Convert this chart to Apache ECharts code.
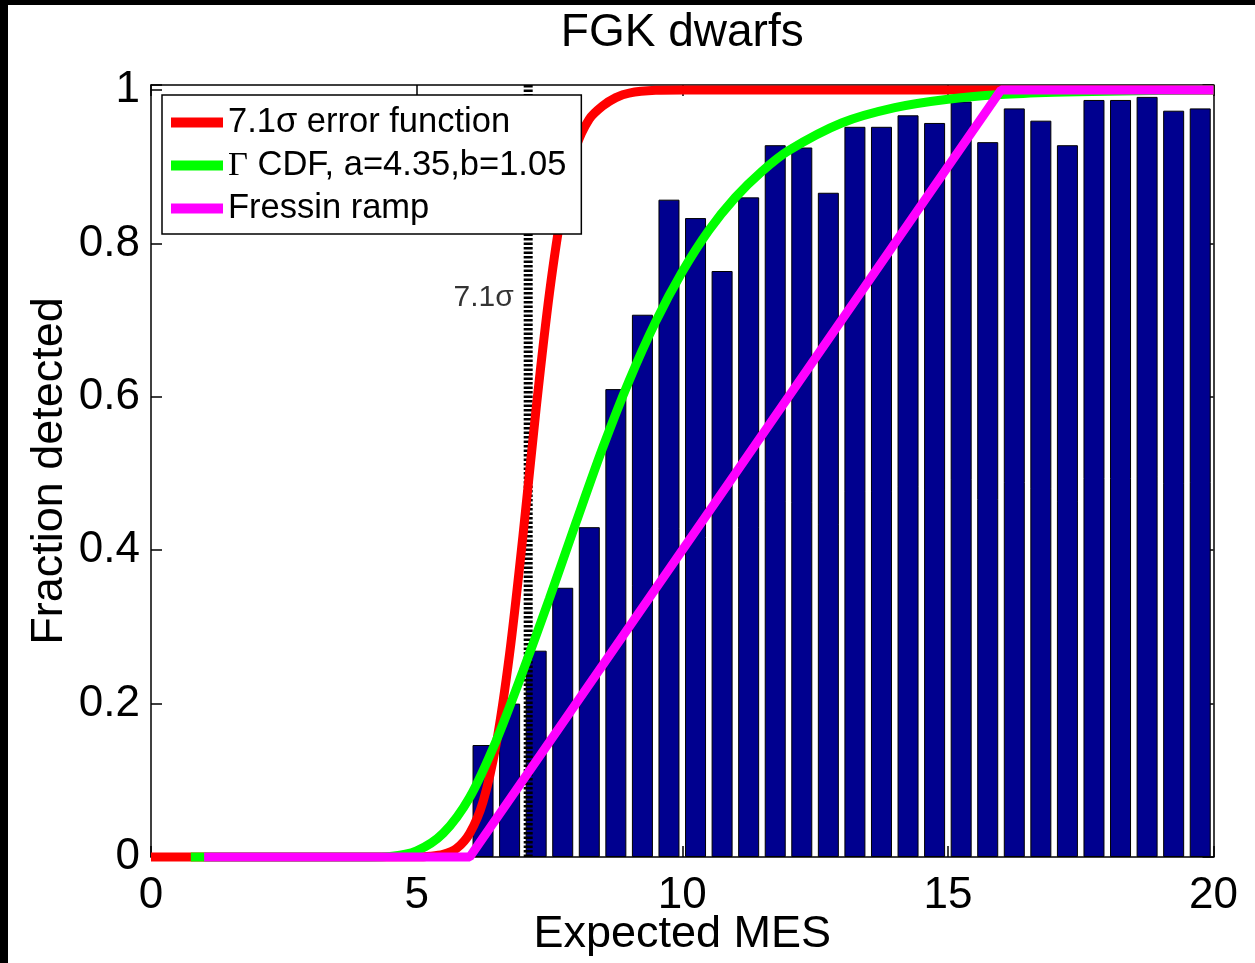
<!DOCTYPE html>
<html>
<head>
<meta charset="utf-8">
<title>FGK dwarfs</title>
<script src="https://cdn.jsdelivr.net/npm/echarts@6/dist/echarts.min.js"></script>
<style>
  html, body { margin: 0; padding: 0; background: #000; width: 1255px; height: 963px; overflow: hidden; }
  #chart { position: absolute; left: 8px; top: 5px; width: 1247px; height: 958px; background: #fff; }
</style>
</head>
<body>
<div id="chart"></div>
<script>
// Histogram bins of expected MES (bin width 0.5) and the fraction detected in each
const binCenters = [6.25, 6.75, 7.25, 7.75, 8.25, 8.75, 9.25, 9.75, 10.25, 10.75,
                    11.25, 11.75, 12.25, 12.75, 13.25, 13.75, 14.25, 14.75, 15.25, 15.75,
                    16.25, 16.75, 17.25, 17.75, 18.25, 18.75, 19.25, 19.75];
const detectedFraction = [0.146, 0.200, 0.269, 0.351, 0.430, 0.610, 0.707, 0.857, 0.833, 0.764,
                          0.860, 0.928, 0.925, 0.866, 0.952, 0.952, 0.967, 0.957, 0.985, 0.932,
                          0.976, 0.960, 0.928, 0.987, 0.987, 0.991, 0.973, 0.976];

// 7.1 sigma error function curve
const errX = [0, 5.0, 5.25, 5.5, 5.75, 6.0, 6.25, 6.5, 6.75, 7.0, 7.25, 7.5, 7.75, 8.0, 8.25, 8.5, 8.75, 9.0, 9.5, 10, 20];
const errY = [0, 0.0002, 0.001, 0.0035, 0.011, 0.031, 0.072, 0.148, 0.265, 0.418, 0.585, 0.735, 0.85, 0.925, 0.962, 0.979, 0.99, 0.996, 0.9995, 1, 1];

// Gamma CDF curve (a = 4.35, b = 1.05)
const gammaX = [0.75, 4.1, 4.5, 5.0, 5.5, 6.0, 6.5, 7.0, 7.5, 8.0, 8.5, 9.0, 9.5, 10.0, 10.5, 11.0, 11.5, 12.0, 13, 14, 15, 16, 17, 18, 20];
const gammaY = [0, 0, 0.0008, 0.008, 0.031, 0.078, 0.152, 0.242, 0.337, 0.436, 0.533, 0.621, 0.698, 0.763, 0.817, 0.860, 0.894, 0.921, 0.957, 0.977, 0.988, 0.994, 0.997, 0.9985, 1];

// Fressin linear ramp
const rampX = [1, 6, 16, 20];
const rampY = [0, 0, 1, 1];

// Detection threshold marker
const thresholdMES = 7.1;
const thresholdLabel = '7.1σ';
const thresholdLabelLevel = 0.729;

const yTicks = [0, 0.2, 0.4, 0.6, 0.8, 1];
const xTicks = [0, 5, 10, 15, 20];

const ERR_NAME = '7.1σ error function';
const GAMMA_NAME = 'Γ CDF, a=4.35,b=1.05';
const RAMP_NAME = 'Fressin ramp';

const FONT = '"Liberation Sans", Arial, Helvetica, sans-serif';
const SERIF = '"Liberation Serif", "Times New Roman", serif';
const Y_TOP = 1.0065;

const pairs = (xs, ys) => xs.map((x, i) => [x, ys[i]]);

const axisLineStyle = { color: '#000', width: 1.5 };
const tickStyle = { inside: true, length: 11, lineStyle: { color: '#000', width: 1.5 } };

const chart = echarts.init(document.getElementById('chart'), null, { renderer: 'canvas' });

const option = {
  animation: false,
  backgroundColor: '#fff',
  grid: { left: 143, top: 80, right: 41.5, bottom: 106, outerBoundsMode: 'none', containLabel: false },
  legend: {
    data: [ERR_NAME, GAMMA_NAME, RAMP_NAME],
    orient: 'vertical',
    left: 154,
    top: 90,
    z: 10,
    icon: 'rect',
    itemWidth: 52,
    itemHeight: 10,
    itemGap: 8,
    backgroundColor: '#fff',
    borderColor: '#000',
    borderWidth: 1.5,
    borderRadius: 0,
    padding: [10, 15, 8, 9],
    selectedMode: false,
    textStyle: {
      fontFamily: FONT, fontSize: 34.5, color: '#000', lineHeight: 31,
      rich: {
        g: { fontFamily: SERIF, fontSize: 34.5, color: '#000', lineHeight: 31 },
        t: { fontFamily: FONT, fontSize: 34.5, color: '#000', lineHeight: 31 }
      }
    },
    formatter: name => name.charAt(0) === 'Γ'
      ? '{g|Γ}{t|' + name.slice(1) + '}'
      : '{t|' + name + '}'
  },
  xAxis: [
    {
      type: 'value', min: xTicks[0], max: xTicks[xTicks.length - 1], interval: 5,
      position: 'bottom',
      name: 'Expected MES', nameLocation: 'middle', nameGap: 55, nameMoveOverlap: false,
      nameTextStyle: { fontFamily: FONT, fontSize: 45, color: '#000', lineHeight: 45 },
      axisLine: { onZero: false, lineStyle: axisLineStyle },
      axisTick: tickStyle,
      axisLabel: { fontFamily: FONT, fontSize: 44, color: '#000', margin: 17, lineHeight: 44 },
      splitLine: { show: false }
    },
    {
      type: 'value', min: xTicks[0], max: xTicks[xTicks.length - 1], interval: 5,
      position: 'top',
      name: 'FGK dwarfs', nameLocation: 'middle', nameGap: 29, nameMoveOverlap: false,
      nameTextStyle: { fontFamily: FONT, fontSize: 46, color: '#000', lineHeight: 46 },
      axisLine: { onZero: false, lineStyle: axisLineStyle },
      axisTick: tickStyle,
      axisLabel: { show: false },
      splitLine: { show: false }
    }
  ],
  yAxis: [
    {
      type: 'value', min: 0, max: Y_TOP, interval: 0.2,
      position: 'left',
      name: 'Fraction detected', nameLocation: 'middle', nameGap: 79, nameMoveOverlap: false,
      nameTextStyle: { fontFamily: FONT, fontSize: 45, color: '#000', lineHeight: 45 },
      axisLine: { onZero: false, lineStyle: axisLineStyle },
      axisTick: tickStyle,
      axisLabel: {
        fontFamily: FONT, fontSize: 44, color: '#000', margin: 11,
        formatter: v => {
          const hit = yTicks.find(t => Math.abs(t - v) < 1e-6);
          return hit === undefined ? '' : String(hit);
        }
      },
      splitLine: { show: false }
    },
    {
      type: 'value', min: 0, max: Y_TOP, interval: 0.2,
      position: 'right',
      axisLine: { onZero: false, lineStyle: axisLineStyle },
      axisTick: tickStyle,
      axisLabel: { show: false },
      splitLine: { show: false }
    }
  ],
  series: [
    {
      name: 'Detected fraction',
      type: 'bar',
      xAxisIndex: 0, yAxisIndex: 0,
      data: pairs(binCenters, detectedFraction),
      barWidth: 21,
      itemStyle: { color: '#00008F', borderColor: '#000', borderWidth: 1 },
      z: 2,
      silent: true
    },
    {
      name: 'threshold',
      type: 'line',
      data: [[thresholdMES, 0], [thresholdMES, Y_TOP]],
      symbol: 'none',
      clip: false,
      lineStyle: { color: '#000', width: 9, type: [2.5, 2] },
      z: 3,
      silent: true
    },
    {
      name: 'threshold label',
      type: 'scatter',
      data: [[thresholdMES, thresholdLabelLevel]],
      symbolSize: 1,
      itemStyle: { color: 'rgba(0,0,0,0)' },
      label: {
        show: true, position: 'left', distance: 14,
        formatter: thresholdLabel,
        fontFamily: FONT, fontSize: 30, color: '#000'
      },
      z: 3,
      silent: true
    },
    {
      name: ERR_NAME,
      type: 'line',
      data: pairs(errX, errY),
      color: '#FF0000',
      symbol: 'none',
      smooth: 0.3,
      clip: false,
      lineStyle: { color: '#FF0000', width: 9 },
      z: 4,
      silent: true
    },
    {
      name: GAMMA_NAME,
      type: 'line',
      data: pairs(gammaX, gammaY),
      color: '#00FF00',
      symbol: 'none',
      smooth: 0.3,
      clip: false,
      lineStyle: { color: '#00FF00', width: 9 },
      z: 5,
      silent: true
    },
    {
      name: RAMP_NAME,
      type: 'line',
      data: pairs(rampX, rampY),
      color: '#FF00FF',
      symbol: 'none',
      clip: false,
      lineStyle: { color: '#FF00FF', width: 9 },
      z: 6,
      silent: true
    }
  ]
};

chart.setOption(option);
</script>
</body>
</html>
